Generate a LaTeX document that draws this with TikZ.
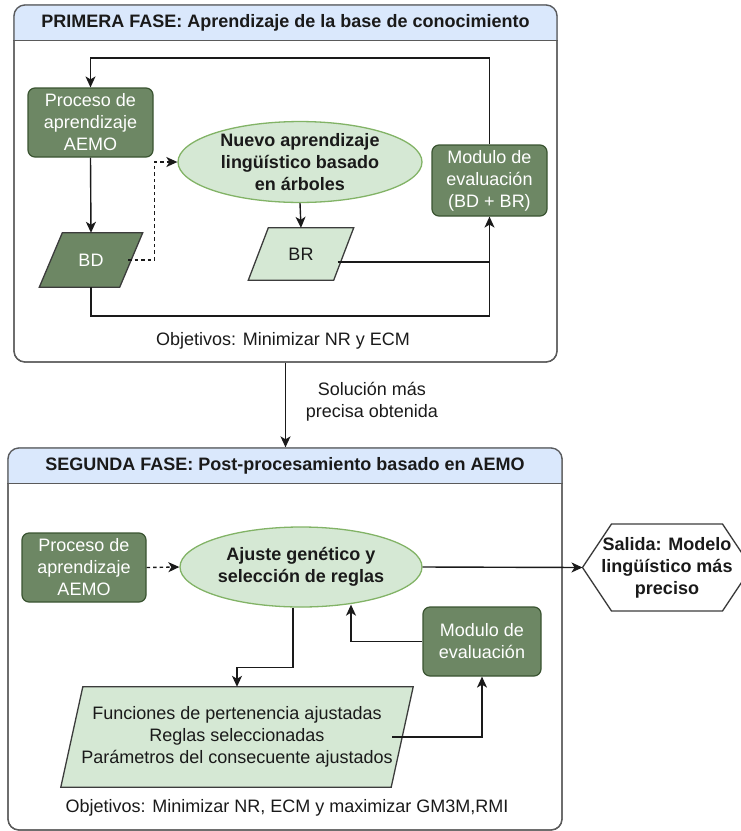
\documentclass[tikz,border=0pt]{standalone}
\usepackage{fontspec}
\setmainfont{Liberation Sans}
\usetikzlibrary{shapes.geometric,arrows.meta,calc,backgrounds}

\definecolor{darkfill}{HTML}{6D8764}
\definecolor{darkline}{HTML}{3A5431}
\definecolor{lightfill}{HTML}{D5E8D4}
\definecolor{lightline}{HTML}{82B366}
\definecolor{hdrfill}{HTML}{DAE8FC}
\definecolor{framecol}{HTML}{5A5A5A}
\definecolor{inkcol}{HTML}{1A1A1A}

\tikzset{
  txt/.style={font=\fontsize{18}{22}\selectfont, align=center, text=inkcol},
  btxt/.style={txt, font=\bfseries\fontsize{18}{22}\selectfont},
  container/.style={draw=framecol, line width=1.3pt, rounded corners=11pt, inner sep=0pt},
  darkbox/.style={txt, text=white, draw=darkline, fill=darkfill, line width=1.2pt,
    rounded corners=7pt, inner sep=2pt},
  lightell/.style={btxt, ellipse, draw=lightline, fill=lightfill, line width=1.3pt, inner sep=0pt},
  pgramtext/.style={txt, rectangle, inner sep=0pt},
  outline/.style={line width=1.3pt, draw=inkcol!85},
  arr/.style={draw=inkcol, line width=1.4pt, -{Stealth[length=11pt,width=10pt,inset=3pt]}},
  plain/.style={draw=inkcol, line width=1.4pt},
  dasharr/.style={arr, dash pattern=on 3.5pt off 3pt},
}

% parallelogram outline behind a node: #1 node, #2 half slant, #3 fill colour
\newcommand{\pgramback}[3]{%
  \begin{scope}[on background layer]
    \draw[outline, fill=#3]
      ($(#1.south west)+(-#2,0)$) -- ($(#1.north west)+(#2,0)$) --
      ($(#1.north east)+(#2,0)$) -- ($(#1.south east)+(-#2,0)$) -- cycle;
  \end{scope}}

\begin{document}
\begin{tikzpicture}[x=1pt, y=-1pt]
\useasboundingbox (0,0) rectangle (741,831);

% ---------- phase 1 ----------
\node[container, minimum width=543pt, minimum height=357pt] (fase1) at (285.5,183.5) {};
\begin{scope}
  \clip[rounded corners=11pt] (fase1.south west) rectangle (fase1.north east);
  \fill[hdrfill] (fase1.north west) rectangle ($(fase1.north east)+(0,36)$);
\end{scope}
\node[container, minimum width=543pt, minimum height=357pt] at (fase1.center) {};
\draw[draw=framecol, line width=1.3pt] ($(fase1.north west)+(0,36)$) -- ($(fase1.north east)+(0,36)$);
\node[btxt] (hdr1) at (285.5,23) {PRIMERA FASE: Aprendizaje de la base de conocimiento};

\node[darkbox, minimum width=125pt, minimum height=69pt] (proc1) at (90.5,122.5)
  {Proceso de\\aprendizaje\\AEMO};
\node[pgramtext, text=white, minimum width=80pt, minimum height=54pt] (bd) at (91,260) {BD};
\pgramback{bd}{11.5}{darkfill}
\node[lightell, minimum width=244pt, minimum height=76pt] (ell1) at (300,162)
  {Nuevo aprendizaje\\lingüístico basado\\en árboles};
\node[pgramtext, minimum width=85pt, minimum height=52pt] (br) at (301,254) {BR};
\pgramback{br}{10}{lightfill}
\node[darkbox, minimum width=115pt, minimum height=71pt] (mod1) at (489.5,180.5)
  {Modulo de\\evaluación\\(BD + BR)};
\node[txt] (obj1) at (283,341) {Objetivos: Minimizar NR y ECM};

% feedback loop back to the learning process
\draw[arr] (mod1.north) -- (mod1.north |- 0,58) -| (proc1.north);
\draw[arr] (proc1.south) -- (bd.north);
\draw[dasharr] ([xshift=-3pt]bd.east) -| ($(ell1.west)+(-23,0)$) -- (ell1.west);
\draw[arr] (ell1.south) -- (br.north);
\draw[arr] (bd.south) |- (mod1.south |- 0,316) -- (mod1.south);
\draw[plain] ([xshift=-6pt,yshift=-8pt]br.east) -- ([yshift=-8pt]br.east -| mod1.south);

% ---------- transition ----------
\node[container, minimum width=554pt, minimum height=382pt] (fase2) at (285,639) {};
\draw[arr] (fase1.south) -- (fase1.south |- fase2.north);
\node[txt] (sol) at (372,402) {Solución más\\precisa obtenida};

% ---------- phase 2 ----------
\begin{scope}
  \clip[rounded corners=11pt] (fase2.south west) rectangle (fase2.north east);
  \fill[hdrfill] (fase2.north west) rectangle ($(fase2.north east)+(0,36)$);
\end{scope}
\node[container, minimum width=554pt, minimum height=382pt] at (fase2.center) {};
\draw[draw=framecol, line width=1.3pt] ($(fase2.north west)+(0,36)$) -- ($(fase2.north east)+(0,36)$);
\node[btxt] (hdr2) at (285,466) {SEGUNDA FASE: Post-procesamiento basado en AEMO};

\node[darkbox, minimum width=124pt, minimum height=69pt] (proc2) at (84,567.5)
  {Proceso de\\aprendizaje\\AEMO};
\node[lightell, minimum width=242pt, minimum height=80pt] (ell2) at (301,567)
  {Ajuste genético y\\selección de reglas};
\node[darkbox, minimum width=118pt, minimum height=69pt] (mod2) at (482,641.5)
  {Modulo de\\evaluación};
\node[pgramtext, minimum width=330pt, minimum height=100pt] (pg) at (237,737)
  {Funciones de pertenencia ajustadas\\Reglas seleccionadas\\Parámetros del consecuente ajustados};
\pgramback{pg}{11}{lightfill}

% output hexagon around its text
\node[btxt, inner sep=0pt] (out) at (667,567.5) {Salida: Modelo\\lingüístico más\\preciso};
\coordinate (outtip) at ($(out.center)+(-84.5,0)$);
\begin{scope}[on background layer]
  \draw[outline, fill=white]
    (outtip) -- ($(out.center)+(-55.5,-43.5)$) -- ($(out.center)+(55.5,-43.5)$) --
    ($(out.center)+(84.5,0)$) -- ($(out.center)+(55.5,43.5)$) --
    ($(out.center)+(-55.5,43.5)$) -- cycle;
\end{scope}
\node[txt] (obj2) at (287,808) {Objetivos: Minimizar NR, ECM y maximizar GM3M,RMI};

\draw[dasharr] (proc2.east) -- (ell2.west);
\draw[arr] (ell2.east) -- (outtip);
\draw[arr] (mod2.west) -| ($(ell2.south)+(50,-3)$);
\draw[arr] ([xshift=-8pt]ell2.south) -- ++(0,60) -| (pg.north);
\draw[arr] ([xshift=-10pt]pg.east) -| (mod2.south);
\end{tikzpicture}
\end{document}
